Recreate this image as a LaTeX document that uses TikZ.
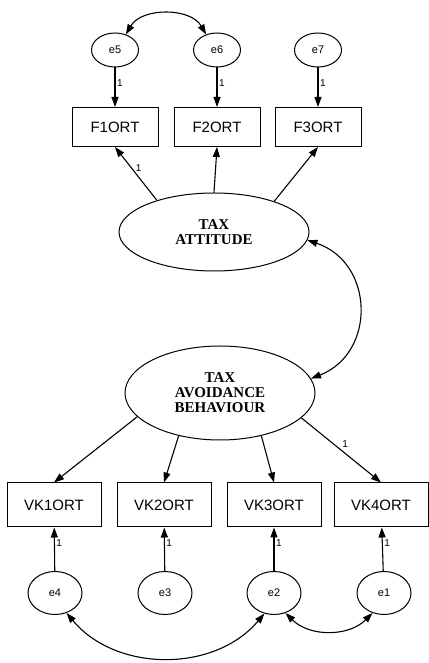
\documentclass[tikz,border=0pt]{standalone}
\usepackage{fontspec}
\setmainfont{Liberation Serif}
\setsansfont{Liberation Sans}
\usetikzlibrary{arrows.meta,shapes.geometric}
\begin{document}
\begin{tikzpicture}[x=1pt, y=1pt, line width=1.1pt, >={Triangle[length=10pt,width=7pt]},
obs node/.style={rectangle,draw,minimum width=86pt,minimum height=39pt,inner sep=0pt,font=\sffamily\fontsize{15}{16}\selectfont},
lat node/.style={ellipse,draw,minimum width=190pt,inner sep=0pt,align=center,font=\bfseries\fontsize{15}{15}\selectfont},
err node/.style={ellipse,draw,inner sep=0pt,font=\sffamily\fontsize{11}{12}\selectfont},
one/.style={font=\sffamily\fontsize{10}{11}\selectfont,inner sep=1.5pt}]
\useasboundingbox (0,0) rectangle (428,663);
\begin{scope}[every node/.append style={line width=1pt}]
\node [err node,minimum width=47pt,minimum height=34pt](e5) at (115,613) {e5};
\node [err node,minimum width=47pt,minimum height=34pt](e6) at (217,613) {e6};
\node [err node,minimum width=47pt,minimum height=34pt](e7) at (318,613) {e7};
\node [obs node](f1) at (115,536) {F1ORT};
\node [obs node](f2) at (217,536) {F2ORT};
\node [obs node](f3) at (318,536) {F3ORT};
\node [lat node,minimum height=78pt](att) at (214,431) {TAX\\ATTITUDE};
\node [lat node,minimum height=94pt](avo) at (220,270) {TAX\\AVOIDANCE\\BEHAVIOUR};
\node [obs node,minimum width=94pt,minimum height=44pt](vk1) at (54,158) {VK1ORT};
\node [obs node,minimum width=94pt,minimum height=44pt](vk2) at (164,158) {VK2ORT};
\node [obs node,minimum width=94pt,minimum height=44pt](vk3) at (274,158) {VK3ORT};
\node [obs node,minimum width=94pt,minimum height=44pt](vk4) at (381,158) {VK4ORT};
\node [err node,minimum width=54pt,minimum height=43pt](e4) at (55,70) {e4};
\node [err node,minimum width=54pt,minimum height=43pt](e3) at (165,70) {e3};
\node [err node,minimum width=54pt,minimum height=43pt](e2) at (274,70) {e2};
\node [err node,minimum width=54pt,minimum height=43pt](e1) at (384,70) {e1};
\end{scope}
\path
	(e5) edge [->] node [one,right,pos=.4] {1} (f1)
	(e6) edge [->] node [one,right,pos=.4] {1} (f2)
	(e7) edge [->] node [one,right,pos=.4] {1} (f3)
	(att.151) edge [->] node [one,right=2pt,pos=.6] {1} (f1.south)
	(att.north) edge [->] (f2.south)
	(att.27) edge [->] (f3.south)
	(avo.196) edge [->] (vk1.north)
	(avo.226) edge [->] (vk2.north)
	(avo.314) edge [->] (vk3.north)
	(avo.343) edge [->] node [one,above=4pt,pos=.55] {1} (vk4.north)
	(e4) edge [->] node [one,right,pos=.65] {1} (vk1)
	(e3) edge [->] node [one,right,pos=.65] {1} (vk2)
	(e2) edge [->] node [one,right,pos=.65] {1} (vk3)
	(e1) edge [->] node [one,right,pos=.65] {1} (vk4)
	(att.355) edge [<->,bend left=70,looseness=1.3] (avo.9)
	(e5.55) edge [<->,bend left=60] (e6.125)
	(e4.-60) edge [<->,bend right=50] (e2.-115)
	(e2.-60) edge [<->,bend right=45] (e1.-120)
	;
\end{tikzpicture}
\end{document}
